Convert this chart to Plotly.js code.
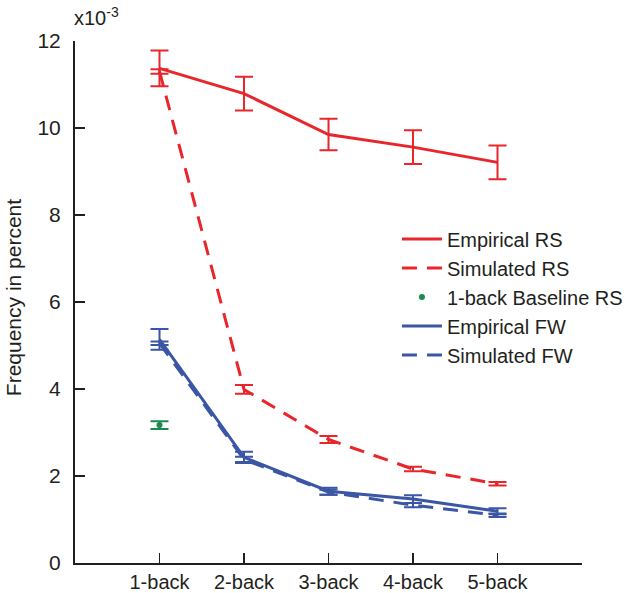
<!DOCTYPE html>
<html>
<head>
<meta charset="utf-8">
<script src="https://cdn.plot.ly/plotly-3.0.1.min.js"></script>
<style>html,body{margin:0;padding:0;background:#fff}#chart{width:640px;height:593px}</style>
</head>
<body>
<div id="chart"></div>
<script>
const categories = ["1-back", "2-back", "3-back", "4-back", "5-back"];
const xPos = [1, 2, 3, 4, 5];
const empRS = [11.37, 10.79, 9.85, 9.56, 9.21];
const empRSerr = [0.41, 0.39, 0.36, 0.39, 0.39];
const simRS = [11.3, 3.99, 2.84, 2.16, 1.82];
const simRSerr = [0.05, 0.1, 0.08, 0.05, 0.04];
const baseRS = [3.17];
const baseRSerr = [0.09];
const empFW = [5.14, 2.43, 1.65, 1.47, 1.19];
const empFWerr = [0.24, 0.13, 0.08, 0.09, 0.07];
const simFW = [5.05, 2.38, 1.63, 1.33, 1.1];
const simFWerr = [0.04, 0.06, 0.06, 0.05, 0.04];

const red = "#e8262b", blue = "#3a56a5", green = "#1b8a4c";
const dash = "15px,10px";
function eb(arr, color) {
  return {type: "data", array: arr, visible: true, color: color, thickness: 2, width: 9};
}
const traces = [
  {x: xPos, y: empRS, name: "Empirical RS", mode: "lines", line: {color: red, width: 3}, error_y: eb(empRSerr, red)},
  {x: xPos, y: simRS, name: "Simulated RS", mode: "lines", line: {color: red, width: 3, dash: dash}, error_y: eb(simRSerr, red)},
  {x: [1], y: baseRS, name: "1-back Baseline RS", mode: "markers", marker: {color: green, size: 6}, error_y: eb(baseRSerr, green)},
  {x: xPos, y: empFW, name: "Empirical FW", mode: "lines", line: {color: blue, width: 3}, error_y: eb(empFWerr, blue)},
  {x: xPos, y: simFW, name: "Simulated FW", mode: "lines", line: {color: blue, width: 3, dash: dash}, error_y: eb(simFWerr, blue)}
];
const axisColor = "#231f20";
const layout = {
  width: 640, height: 593,
  margin: {l: 75, r: 55, t: 41, b: 30},
  paper_bgcolor: "#fff", plot_bgcolor: "#fff",
  font: {family: "Liberation Sans, Arial, sans-serif", size: 21, color: "#231f20"},
  showlegend: true,
  legend: {x: 0.635, y: 0.658, xanchor: "left", yanchor: "top", bgcolor: "rgba(0,0,0,0)",
           font: {size: 20}, tracegroupgap: 0, itemwidth: 40},
  xaxis: {range: [0, 6], tickvals: xPos, ticktext: categories, showgrid: false, zeroline: false,
          showline: true, linecolor: axisColor, linewidth: 2, ticks: "inside", ticklen: 10,
          tickcolor: axisColor, tickwidth: 1.5, ticklabelstandoff: 0, tickfont: {size: 20}},
  yaxis: {range: [0, 12], dtick: 2, showgrid: false, zeroline: false,
          showline: true, linecolor: axisColor, linewidth: 2, ticks: "inside", ticklen: 10,
          tickcolor: axisColor, tickwidth: 1.5, ticklabelstandoff: 8},
  annotations: [
    {xref: "paper", yref: "paper", x: -0.006, y: 1.0, yshift: 10, xanchor: "left", yanchor: "bottom",
     text: "x10<sup>-3</sup>", showarrow: false, font: {size: 20}},
    {xref: "paper", yref: "paper", x: -0.1216, y: 0.508, xanchor: "center", yanchor: "middle",
     text: "Frequency in percent", textangle: -90, showarrow: false, font: {size: 21}}
  ]
};
Plotly.newPlot("chart", traces, layout, {displayModeBar: false, staticPlot: true});
</script>
</body>
</html>
